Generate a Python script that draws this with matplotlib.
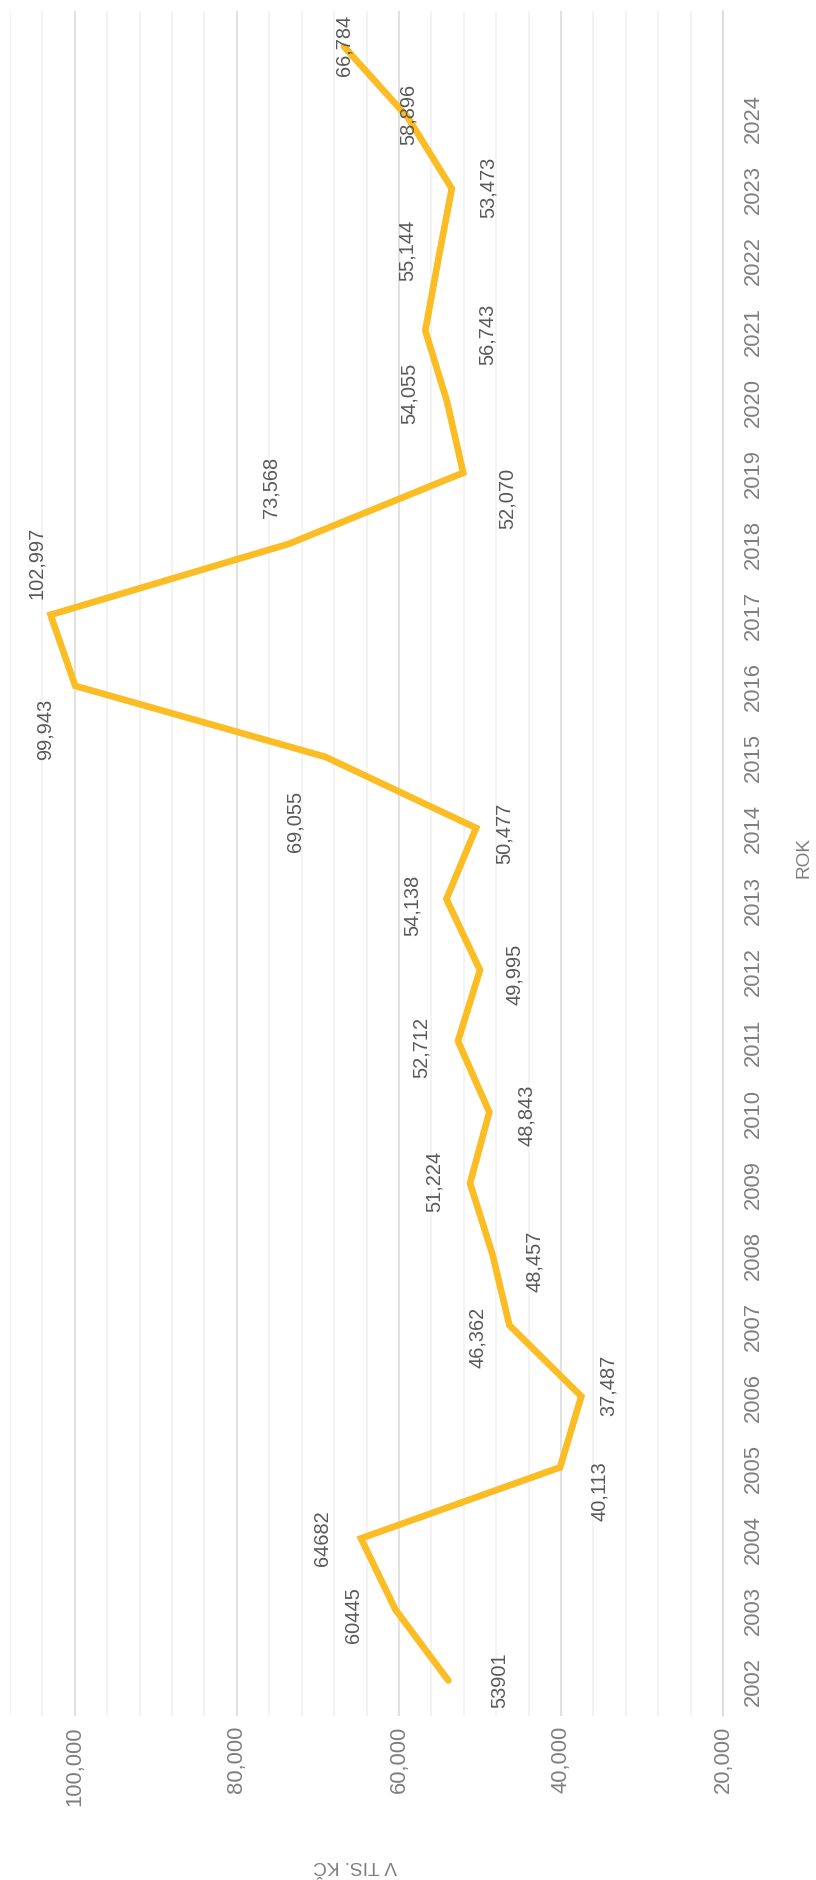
import matplotlib
matplotlib.use("Agg")
import matplotlib.pyplot as plt
from matplotlib.ticker import MultipleLocator, FuncFormatter

# data
years = [str(y) for y in range(2002, 2025)] + [""]
values = [53901, 60445, 64682, 40113, 37487, 46362, 48457, 51224, 48843, 52712,
          49995, 54138, 50477, 69055, 99943, 102997, 73568, 52070, 54055, 56743,
          55144, 53473, 58896, 66784]
value_labels = ["53901", "60445", "64682", "40,113", "37,487", "46,362", "48,457",
                "51,224", "48,843", "52,712", "49,995", "54,138", "50,477", "69,055",
                "99,943", "102,997", "73,568", "52,070", "54,055", "56,743", "55,144",
                "53,473", "58,896", "66,784"]

# where each data label sits relative to its point (pixels, x right / y down)
label_offsets = [(51, -1), (-42, 5), (-38, -1), (39, 23), (27, -12), (-32, 11),
                 (42, 6), (-36, -3), (37, 2), (-37, 5), (35, 3), (-34, 5),
                 (28, 4), (-31, 63), (-30, 42), (-14, -53), (-18, -57), (44, 25),
                 (-38, -9), (62, 3), (-31, -10), (36, -2), (0, -4), (0, -2)]

plt.rcParams["font.family"] = ["Liberation Sans", "DejaVu Sans"]

W, H = 816, 1881
fig = plt.figure(figsize=(W / 100, H / 100), dpi=100)
ax = fig.add_axes([10 / W, (H - 1717) / H, 713 / W, 1705 / H])

idx = list(range(len(values)))
ax.plot(values, idx, color="#FBBC24", lw=4.8, solid_capstyle="round",
        solid_joinstyle="miter", zorder=3)

# value axis runs right -> left
ax.set_xlim(108000, 20000)
ax.set_ylim(-0.5, len(values) - 0.5)
ax.xaxis.set_major_locator(MultipleLocator(20000))
ax.xaxis.set_minor_locator(MultipleLocator(4000))
ax.xaxis.set_major_formatter(FuncFormatter(lambda v, p: f"{v:,.0f}"))
ax.grid(which="major", axis="x", color="#d9d9d9", lw=1.1, zorder=0)
ax.grid(which="minor", axis="x", color="#f0f0f0", lw=1.1, zorder=0)
ax.grid(False, axis="y")
ax.tick_params(axis="x", which="both", length=0, pad=6.5, labelsize=15.8,
               labelcolor="#7f7f7f", labelrotation=90)

# years on the right
ax.yaxis.tick_right()
ax.set_yticks(idx)
ax.set_yticklabels(years, rotation=90, va="center", ha="left")
ax.tick_params(axis="y", length=0, pad=14, labelsize=15.8, labelcolor="#7f7f7f")

for s in ["top", "bottom", "left"]:
    ax.spines[s].set_visible(False)
ax.spines["right"].set_color("#d9d9d9")
ax.spines["right"].set_linewidth(1.1)

for i, (v, lab, (dx, dy)) in enumerate(zip(values, value_labels, label_offsets)):
    ax.annotate(lab, (v, i), xytext=(dx, -dy), textcoords="offset pixels",
                rotation=90, ha="center", va="center", fontsize=14.4,
                color="#595959", zorder=4)

fig.text(804 / W, 1 - 858 / H, "ROK", rotation=90, ha="center", va="center",
         fontsize=13.7, color="#7f7f7f")
fig.text(355 / W, 1 - 1866 / H, "V TIS. KČ", rotation=180, ha="center",
         va="center", fontsize=13.7, color="#7f7f7f")

fig.savefig("out.png", dpi=100)
